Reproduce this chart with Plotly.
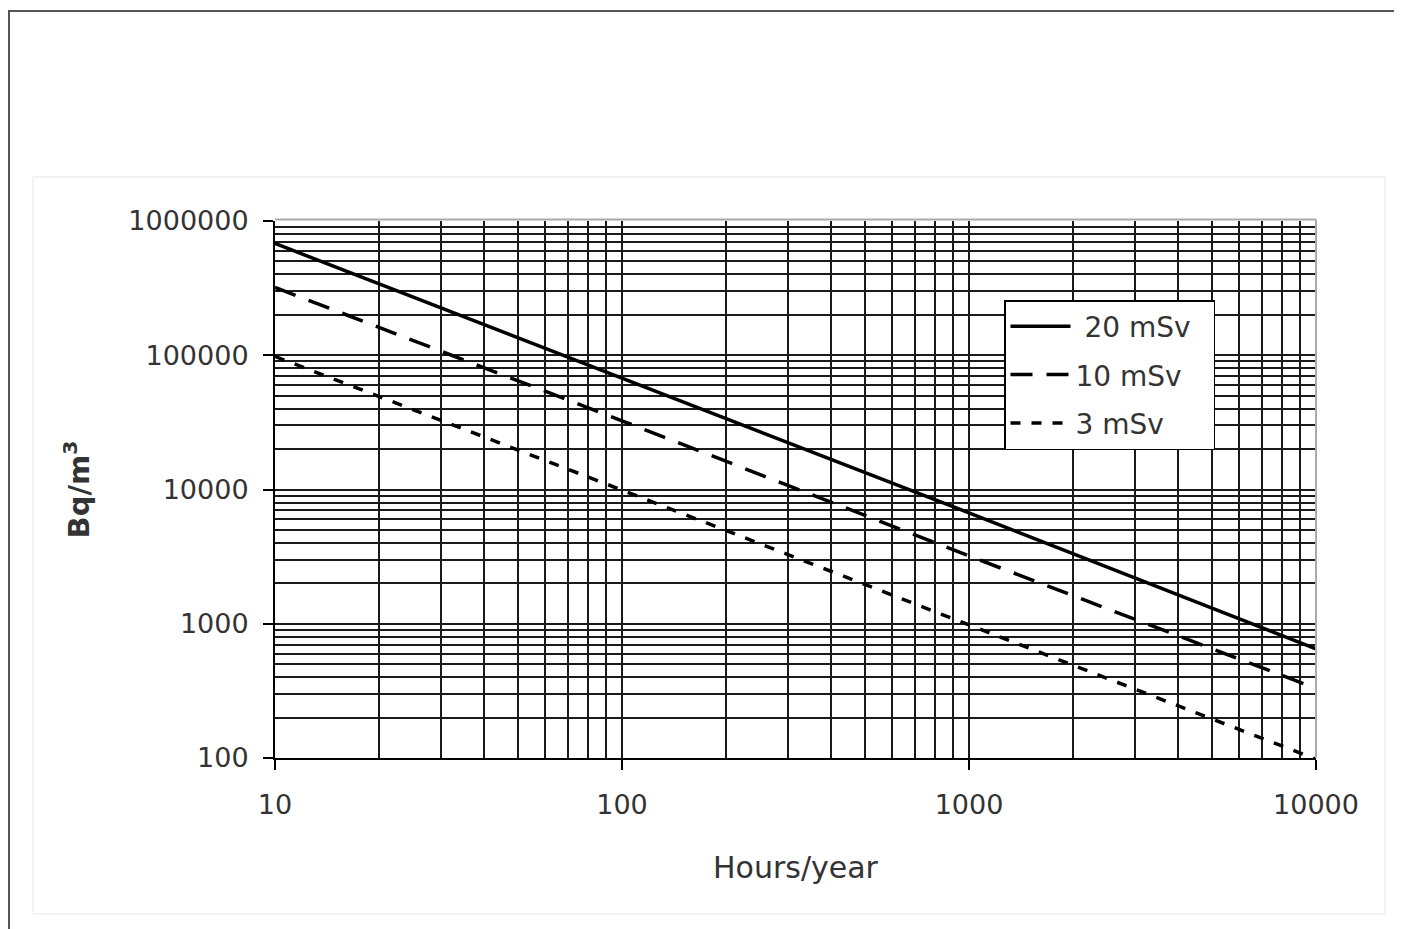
import plotly.graph_objects as go

# ---- data ----
hours = [10, 100, 1000, 10000]
series_names = ["\u00a020 mSv\u00a0\u00a0", "10 mSv\u00a0\u00a0", "3 mSv\u00a0\u00a0"]
bq_20 = [680000, 68000, 6700, 650]
bq_10 = [320000, 32500, 3200, 330]
bq_3 = [98000, 9900, 980, 98]

x_tickvals = [10, 100, 1000, 10000]
x_ticktext = ["10", "100", "1000", "10000"]
y_tickvals = [100, 1000, 10000, 100000, 1000000]
y_ticktext = ["100", "1000", "10000", "100000", "1000000"]

FONT = "DejaVu Sans"
TXT = "#333333"

fig = go.Figure()
styles = [("solid", bq_20), ("22px,14px", bq_10), ("10px,11px", bq_3)]
for i, (name, (dash, ys)) in enumerate(zip(series_names, styles)):
    fig.add_trace(go.Scatter(
        x=hours, y=ys, mode="lines", name=name,
        legendgroup=f"g{i}",
        line=dict(color="black", width=3.5, dash=dash),
    ))

# page is offset by an 8px body margin
OFF = 8
W, H = 1402 - OFF, 929 - OFF
L, T = 275 - OFF, 221 - OFF
R = W - (1316 - OFF)
B = H - (758 - OFF)
pw, ph = W - L - R, H - T - B

def px_x(px):
    return (px - OFF - L) / pw

def px_y(py):
    return (H - B - (py - OFF)) / ph

grid = "#1a1a1a"
fig.update_layout(
    width=W, height=H,
    margin=dict(l=L, r=R, t=T, b=B),
    paper_bgcolor="white", plot_bgcolor="white",
    font=dict(family=FONT, color=TXT, size=27),
    showlegend=True,
    legend=dict(
        x=px_x(1004), y=px_y(300), xanchor="left", yanchor="top",
        bgcolor="white", bordercolor="black", borderwidth=1.5,
        font=dict(family=FONT, size=28, color=TXT),
        itemwidth=60, tracegroupgap=9,
    ),
    xaxis=dict(
        type="log", range=[1, 4],
        tickvals=x_tickvals, ticktext=x_ticktext,
        showgrid=True, gridcolor=grid, gridwidth=1.5,
        minor=dict(dtick="D1", showgrid=True, gridcolor=grid, gridwidth=1.5, ticks=""),
        showline=True, linecolor="black", linewidth=2,
        ticks="outside", ticklen=10, tickcolor="black", tickwidth=1.5,
        ticklabelstandoff=12,
        tickfont=dict(size=27, color=TXT),
        title=dict(text="Hours/year", font=dict(size=30, color=TXT), standoff=38),
        zeroline=False,
    ),
    yaxis=dict(
        type="log", range=[2, 6],
        tickvals=y_tickvals, ticktext=y_ticktext,
        showgrid=True, gridcolor=grid, gridwidth=1.5,
        minor=dict(dtick="D1", showgrid=True, gridcolor=grid, gridwidth=1.5, ticks=""),
        showline=True, linecolor="black", linewidth=2,
        ticks="outside", ticklen=10, tickcolor="black", tickwidth=1.5,
        ticklabelstandoff=9,
        tickfont=dict(size=27, color=TXT),
        title=dict(text="<b>Bq/m<sup>3</sup></b>", font=dict(size=29, color=TXT), standoff=30),
        zeroline=False,
    ),
    shapes=[
        # outer frame of the figure
        dict(type="rect", xref="paper", yref="paper",
             x0=px_x(9), x1=px_x(1398), y0=px_y(945), y1=px_y(11),
             line=dict(color="#555555", width=2), fillcolor="rgba(0,0,0,0)", layer="above"),
        # faint inner chart-area frame
        dict(type="rect", xref="paper", yref="paper",
             x0=px_x(33), x1=px_x(1385), y0=px_y(914), y1=px_y(177),
             line=dict(color="#f0f0f0", width=1.5), fillcolor="rgba(0,0,0,0)", layer="below"),
        # gray top and right edges of the plot area
        dict(type="line", xref="paper", yref="paper", x0=0, x1=1, y0=1.003, y1=1.003,
             line=dict(color="#aaaaaa", width=2)),
        dict(type="line", xref="paper", yref="paper", x0=1, x1=1, y0=0, y1=1.003,
             line=dict(color="#aaaaaa", width=2)),
    ],
)

fig.write_html("out.html")
